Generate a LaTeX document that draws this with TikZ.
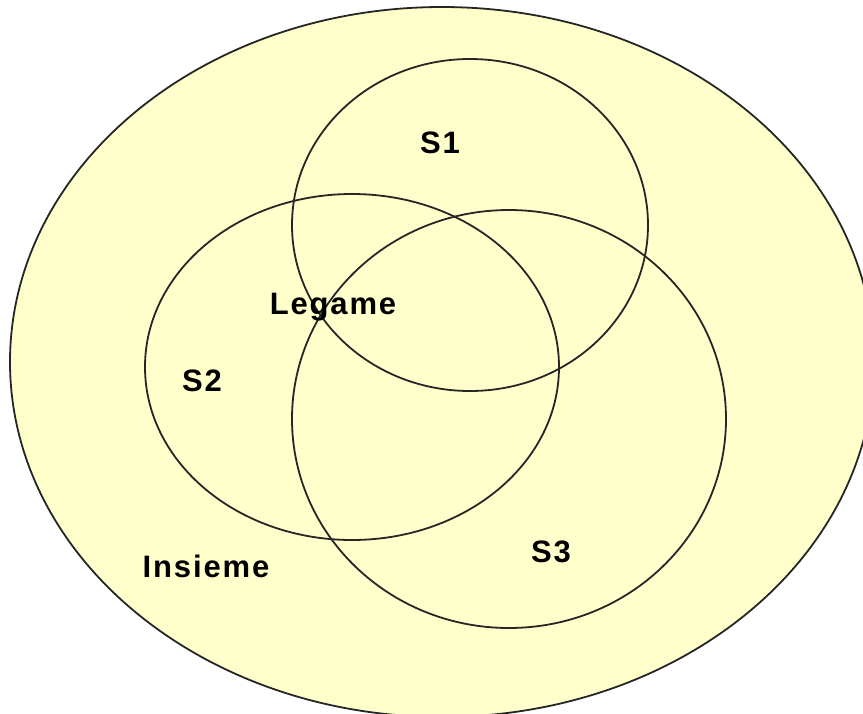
\documentclass[tikz,border=0pt]{standalone}
\usepackage{fontspec}
\setmainfont{Liberation Sans}
\newfontfamily\lblfont[LetterSpace=6]{Liberation Sans}
\usepackage{xcolor}
\definecolor{pale}{RGB}{255,255,204}

\begin{document}
\begin{tikzpicture}[x=1pt, y=-1pt,
  set/.style={draw=black!85, line width=1.8pt},
  lbl/.style={anchor=base, font=\lblfont\fontsize{31}{34}\selectfont\bfseries, inner sep=0pt}
]
\useasboundingbox (0,0) rectangle (863,713);
\clip (0,0) rectangle (863,713);
% insieme
\draw[set, fill=pale] (442,362) ellipse [x radius=432, y radius=355];
% sottoinsiemi
\draw[set] (470,225) ellipse [x radius=178, y radius=166];
\draw[set] (352,367) ellipse [x radius=207, y radius=173];
\draw[set] (509,419) ellipse [x radius=217, y radius=209];
% etichette
\node[lbl] (s1)  at (440,153) {S1};
\node[lbl] (s2)  at (202,391) {S2};
\node[lbl] (s3)  at (551,562) {S3};
\node[lbl] (leg) at (333,314) {Legame};
\node[lbl] (ins) at (206,577) {Insieme};
\end{tikzpicture}
\end{document}
